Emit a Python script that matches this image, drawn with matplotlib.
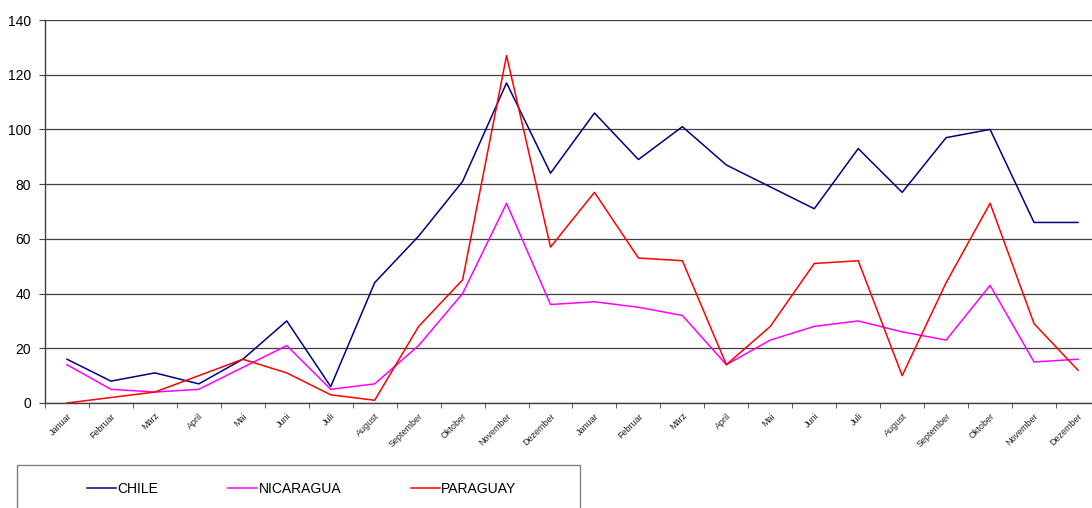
import matplotlib.pyplot as plt
from matplotlib.patches import Rectangle

plt.rcParams['font.family'] = ['Liberation Sans', 'DejaVu Sans']

months = ['Januar', 'Februar', 'März', 'April', 'Mai', 'Juni', 'Juli', 'August',
          'September', 'Oktober', 'November', 'Dezember']
labels = months + months

chile = [16, 8, 11, 7, 16, 30, 6, 44, 61, 81, 117, 84,
         106, 89, 101, 87, 79, 71, 93, 77, 97, 100, 66, 66]
nicaragua = [14, 5, 4, 5, 13, 21, 5, 7, 21, 40, 73, 36,
             37, 35, 32, 14, 23, 28, 30, 26, 23, 43, 15, 16]
paraguay = [0, 2, 4, 10, 16, 11, 3, 1, 28, 45, 127, 57,
            77, 53, 52, 14, 28, 51, 52, 10, 44, 73, 29, 12]

W, H = 1092, 508
fig = plt.figure(figsize=(W / 100, H / 100), dpi=100)
# plot area runs past the right edge, as in the original screenshot
ax = fig.add_axes([45 / W, (H - 403) / H, (1100 - 45) / W, (403 - 20) / H])

x = range(len(labels))
l1, = ax.plot(x, chile, color='#000080', lw=1.1, label='CHILE')
l2, = ax.plot(x, nicaragua, color='#FF00FF', lw=1.1, label='NICARAGUA')
l3, = ax.plot(x, paraguay, color='#FF0000', lw=1.1, label='PARAGUAY')

ax.set_xlim(-0.5, len(labels) - 0.5)
ax.set_ylim(0, 140)
ax.set_yticks(range(0, 141, 20))
ax.yaxis.grid(True, color='#404040', lw=0.9)
ax.set_axisbelow(True)

ax.set_xticks(list(x))
ax.set_xticklabels(labels, rotation=45, ha='right', va='top',
                   rotation_mode='anchor', fontsize=6.5, color='#222222')
ax.set_xticks([i - 0.5 for i in range(len(labels) + 1)], minor=True)
ax.tick_params(axis='x', which='major', length=0, pad=6)
ax.tick_params(axis='x', which='minor', length=3.5, color='#404040', direction='out')
ax.tick_params(axis='y', length=4, color='#404040', labelsize=10, pad=6)

for s in ['top', 'right']:
    ax.spines[s].set_visible(False)
for s in ['left', 'bottom']:
    ax.spines[s].set_color('#404040')
    ax.spines[s].set_linewidth(1.0)

fig.patches.append(Rectangle((17 / W, -0.1), (580 - 17) / W, (H - 465) / H + 0.1,
                             transform=fig.transFigure, fill=False,
                             edgecolor='#808080', lw=1.0))
fig.legend(handles=[l1, l2, l3], loc='center left',
           bbox_to_anchor=(87 / W, (H - 489) / H), ncol=3, frameon=False,
           fontsize=10, handlelength=2.1, handletextpad=0.1,
           columnspacing=5.0, borderaxespad=0, borderpad=0)

fig.savefig('out.png', dpi=100)
